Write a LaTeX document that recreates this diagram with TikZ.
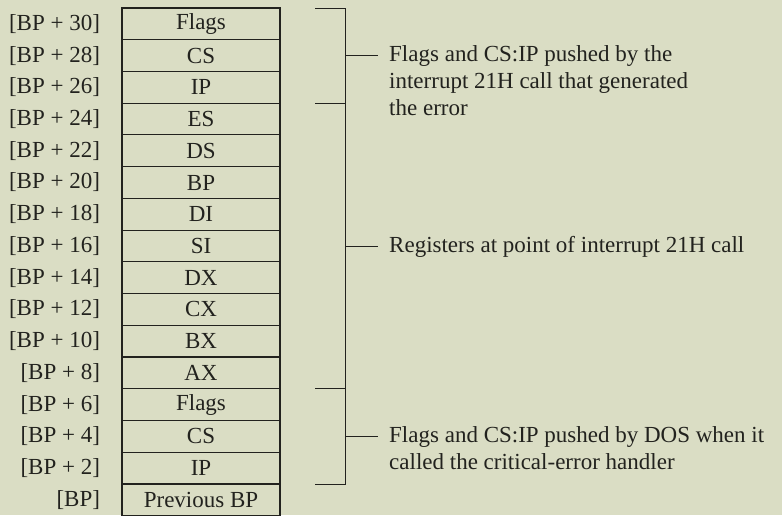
\documentclass[tikz,border=0pt]{standalone}
\usepackage{fontspec}
\setmainfont{Liberation Serif}
\usepackage{xcolor}
\usepackage{tikz}
\usetikzlibrary{positioning,calc}
\definecolor{paper}{RGB}{218,221,196}
\definecolor{ink}{RGB}{34,34,30}

\begin{document}
\begin{tikzpicture}[x=1pt, y=-1pt, font=\fontsize{23}{27}\selectfont, color=ink]
    \tikzstyle{cell}=[draw, line width=1.1pt, minimum width=158pt, minimum height=31.73pt, inner sep=0pt, outer sep=0pt]
    \tikzstyle{addr}=[inner sep=0pt, outer sep=0pt]
    \tikzstyle{note}=[align=left, inner sep=0pt, anchor=north west]
    \tikzstyle{brace}=[line width=0.9pt]
    \fill[paper] (0,0) rectangle (782,515);
    \useasboundingbox (0,0) rectangle (782,515);
    % stack frame, top down
    \node[cell] (c0) at (201,23.87) {Flags};
    \foreach \reg [count=\i, remember=\i as \j (initially 0)] in {CS,IP,ES,DS,BP,DI,SI,DX,CX,BX,AX,Flags,CS,IP,Previous BP}
      \node[cell, below=0pt of c\j] (c\i) {\reg};
    \foreach \off [count=\i from 0] in {30,28,26,24,22,20,18,16,14,12,10,8,6,4,2}
      \node[addr, left=22pt of c\i] (a\i) {[BP + \off]};
    \node[addr, left=22pt of c15] (a15) {[BP]};
    % brackets and notes
    \foreach \k/\top/\bot/\txt in {1/c0.north/c2.south/{Flags and CS:IP pushed by the\\interrupt 21H call that generated\\the error},
                                   2/c2.south/c11.south/{Registers at point of interrupt 21H call},
                                   3/c11.south/c14.south/{Flags and CS:IP pushed by DOS when it\\called the critical-error handler}} {
      \coordinate (u\k) at ([xshift=65pt]\top\space east);
      \coordinate (v\k) at ([xshift=65pt]\bot\space east);
      \coordinate (s\k) at ([xshift=35pt]\top\space east);
      \coordinate (t\k) at ([xshift=35pt]\bot\space east);
      \coordinate (m\k) at ($(u\k)!0.5!(v\k)$);
      \coordinate (e\k) at ([xshift=33pt]m\k);
      \draw[brace] (s\k) -- (u\k) -- (v\k) -- (t\k);
      \draw[brace] (m\k) -- (e\k);
      \node[note] (n\k) at ([xshift=44pt, yshift=10pt]m\k) {\txt};
    }
\end{tikzpicture}
\end{document}
